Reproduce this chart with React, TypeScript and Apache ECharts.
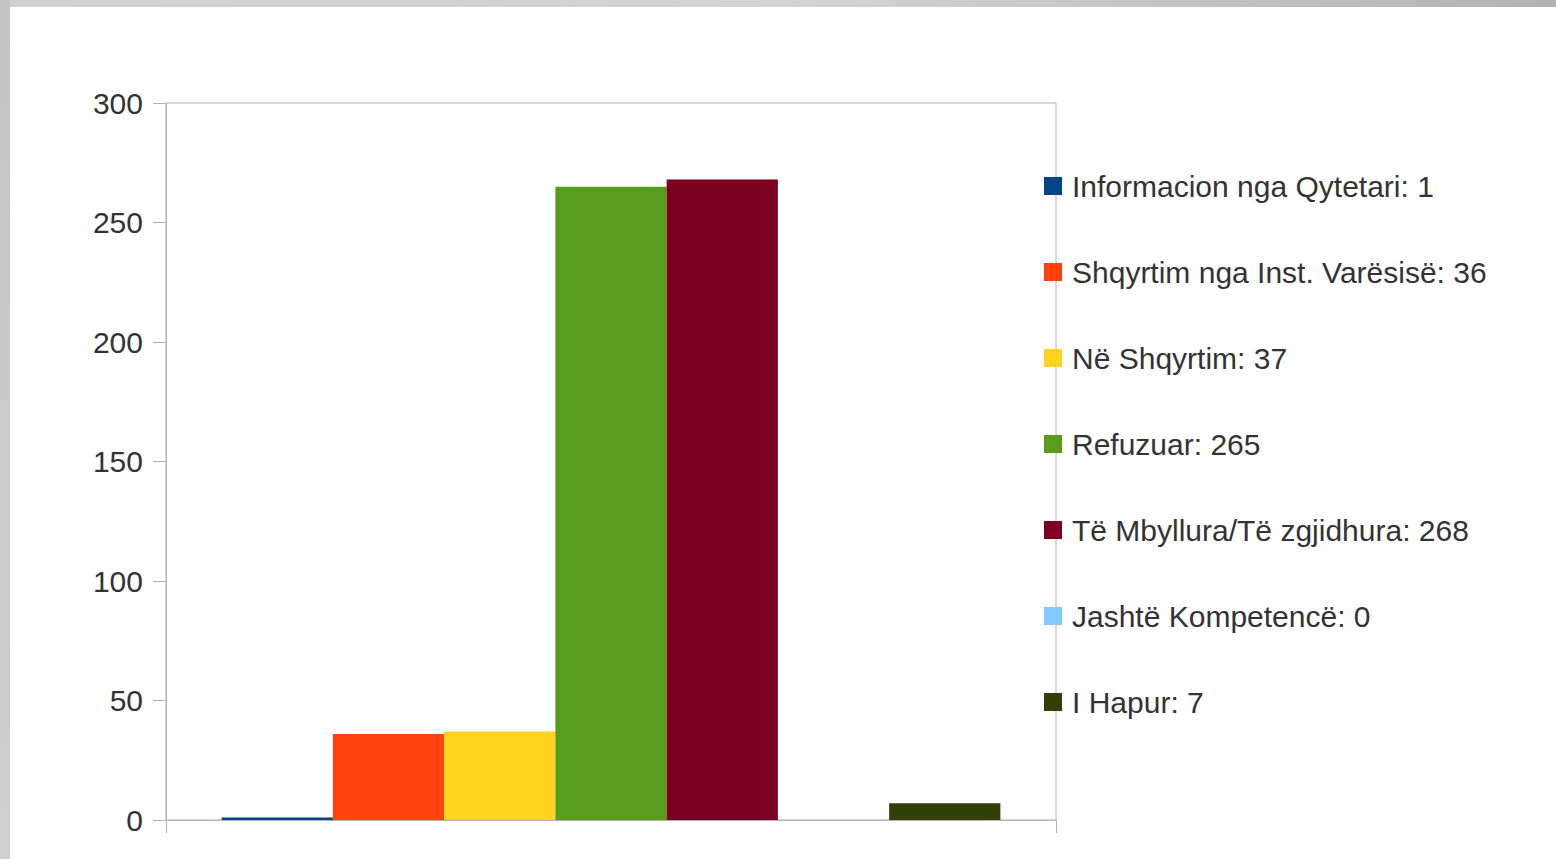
import React, { useEffect, useRef } from "react";
import * as echarts from "echarts";

const seriesNames = [
  "Informacion nga Qytetari",
  "Shqyrtim nga Inst. Varësisë",
  "Në Shqyrtim",
  "Refuzuar",
  "Të Mbyllura/Të zgjidhura",
  "Jashtë Kompetencë",
  "I Hapur",
];
const seriesValues = [1, 36, 37, 265, 268, 0, 7];
const seriesColors = ["#004586", "#ff420e", "#ffd320", "#579d1c", "#7e0021", "#83caff", "#314004"];
const categories = [""];
const yTicks = { min: 0, max: 300, interval: 50 };

const FONT = "'Liberation Sans', Arial, sans-serif";
const TEXT = "#333333";
const AXIS = "#b3b3b3";

export default function App() {
  const ref = useRef<HTMLDivElement>(null);
  useEffect(() => {
    if (!ref.current) return;
    const chart = echarts.init(ref.current, undefined, { renderer: "svg" });
    chart.setOption({
      animation: false,
      backgroundColor: "#ffffff",
      textStyle: { fontFamily: FONT },
      graphic: [
        {
          type: "rect",
          shape: { x: 0, y: 0, width: 1556, height: 7 },
          style: {
            fill: new echarts.graphic.LinearGradient(0, 0, 1, 0, [
              { offset: 0, color: "#cfcfcf" },
              { offset: 0.5, color: "#d4d4d4" },
              { offset: 1, color: "#b3b3b3" },
            ]),
          },
          silent: true,
        },
        {
          type: "rect",
          shape: { x: 0, y: 0, width: 10, height: 859 },
          style: {
            fill: new echarts.graphic.LinearGradient(0, 0, 0, 1, [
              { offset: 0, color: "#c4c4c4" },
              { offset: 1, color: "#cfcfcf" },
            ]),
          },
          silent: true,
        },
      ],
      grid: {
        left: 166,
        top: 103,
        width: 890,
        height: 717,
        show: true,
        borderColor: AXIS,
        borderWidth: 1,
        backgroundColor: "transparent",
      },
      legend: {
        orient: "vertical",
        left: 1044,
        top: 171,
        padding: 0,
        itemWidth: 18,
        itemHeight: 18,
        itemGap: 56,
        icon: "rect",
        selectedMode: false,
        data: seriesNames,
        formatter: (name: string) => `${name}: ${seriesValues[seriesNames.indexOf(name)]}`,
        textStyle: {
          fontSize: 30,
          lineHeight: 30,
          color: TEXT,
          fontFamily: FONT,
          padding: [0, 0, 0, 5],
        },
      },
      xAxis: {
        type: "category",
        data: categories,
        axisLine: { show: true, lineStyle: { color: AXIS, width: 1 } },
        axisTick: { show: true, length: 13, lineStyle: { color: AXIS } },
        axisLabel: { show: false },
        splitLine: { show: false },
      },
      yAxis: {
        type: "value",
        min: yTicks.min,
        max: yTicks.max,
        interval: yTicks.interval,
        axisLine: { show: true, lineStyle: { color: AXIS, width: 1 } },
        axisTick: { show: true, length: 13, lineStyle: { color: AXIS } },
        axisLabel: { fontSize: 30, color: TEXT, margin: 23, fontFamily: FONT },
        splitLine: { show: false },
      },
      series: seriesNames.map((name, i) => ({
        name,
        type: "bar",
        data: [seriesValues[i]],
        barGap: "0%",
        barCategoryGap: "12.5%",
        itemStyle: { color: seriesColors[i] },
      })),
    });
    return () => chart.dispose();
  }, []);
  return (
    <div
      ref={ref}
      style={{ position: "fixed", left: 0, top: 0, width: 1556, height: 859 }}
    />
  );
}
